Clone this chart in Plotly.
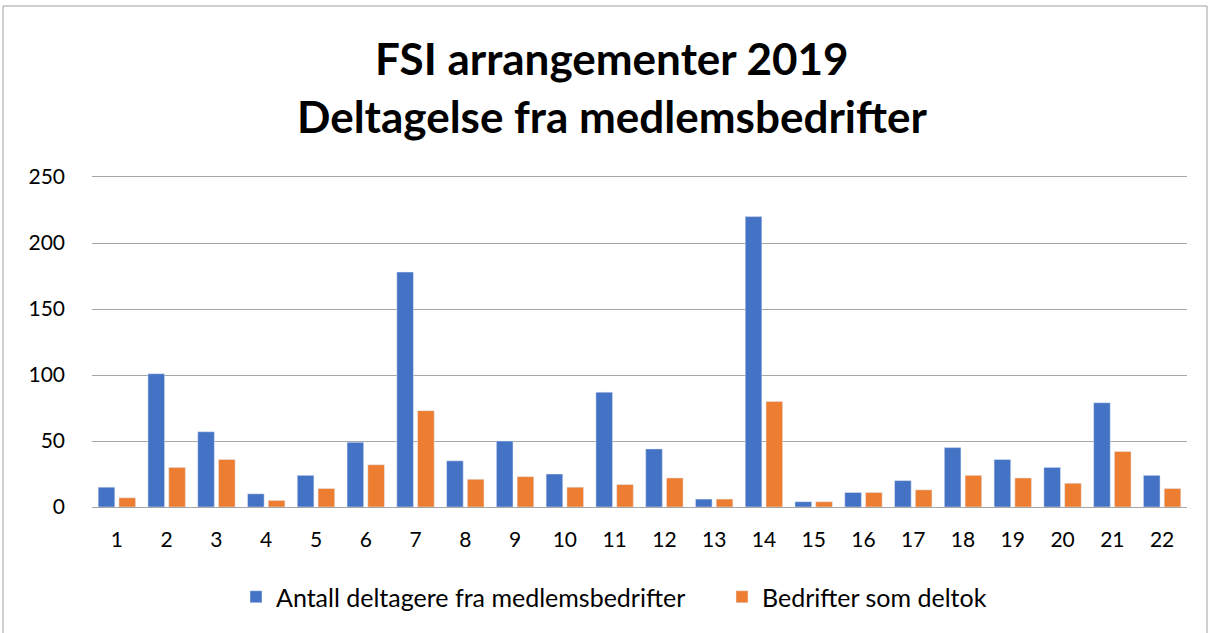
import plotly.graph_objects as go

categories = [str(i) for i in range(1, 23)]
deltagere = [15, 101, 57, 10, 24, 49, 178, 35, 50, 25, 87, 44, 6, 220, 4, 11, 20, 45, 36, 30, 79, 24]
bedrifter = [7, 30, 36, 5, 14, 32, 73, 21, 23, 15, 17, 22, 6, 80, 4, 11, 13, 24, 22, 18, 42, 14]
series_names = ["Antall deltagere fra medlemsbedrifter", "Bedrifter som deltok"]
title_lines = ["FSI arrangementer 2019", "Deltagelse fra medlemsbedrifter"]
y_ticks = [0, 50, 100, 150, 200, 250]

W, H = 1214, 633
L, R, T, B = 92, 1187, 177, 507

fig = go.Figure()
fig.add_trace(go.Bar(x=categories, y=deltagere, name=series_names[0], marker_color="#4472C4",
                     legend="legend", showlegend=True))
fig.add_trace(go.Bar(x=categories, y=bedrifter, name=series_names[1], marker_color="#ED7D31",
                     legend="legend2", showlegend=True))

def px_x(p):
    return (p - L) / (R - L)

def px_y(p):
    return (B - p) / (B - T)

annotations = []
for txt, yc in zip(title_lines, [58, 116]):
    annotations.append(dict(text="<b>%s</b>" % txt, x=px_x(612), y=px_y(yc), xref="paper", yref="paper",
                            xanchor="center", yanchor="middle", showarrow=False,
                            font=dict(family="Lato", size=44, color="#000000")))

leg_common = dict(orientation="h", xanchor="left", y=px_y(597), yanchor="middle",
                  font=dict(size=25, family="Lato", color="#000000"), itemwidth=30,
                  bgcolor="rgba(0,0,0,0)", visible=True)

fig.update_layout(
    width=W, height=H,
    showlegend=True,
    margin=dict(l=L, r=W - R, t=T, b=H - B, pad=0, autoexpand=False),
    paper_bgcolor="white", plot_bgcolor="white",
    barmode="group", bargap=0.165, bargroupgap=0.2,
    font=dict(family="Lato", size=21, color="#000000"),
    annotations=annotations,
    legend=dict(x=px_x(236), **leg_common),
    legend2=dict(x=px_x(722), **leg_common),
    shapes=[dict(type="rect", xref="paper", yref="paper",
                 x0=px_x(3), x1=px_x(1207), y0=px_y(640), y1=px_y(6),
                 line=dict(color="#a0a0a0", width=1), fillcolor="rgba(0,0,0,0)", layer="below")],
)
fig.update_xaxes(showgrid=False, showline=True, mirror=True, linecolor="#a6a6a6", linewidth=1,
                 ticks="", ticklabelstandoff=14, tickfont=dict(size=21, color="#000000"))
fig.update_yaxes(range=[0, 250], tickvals=y_ticks, showgrid=True, gridcolor="#a6a6a6", gridwidth=1,
                 zeroline=True, zerolinecolor="#a6a6a6", zerolinewidth=1, ticks="",
                 ticklabelstandoff=26, tickfont=dict(size=21, color="#000000"), showline=False)

fig.write_html("out.html", config={"displayModeBar": False},
               post_script="document.body.style.margin='0px';document.body.style.overflow='hidden';")
